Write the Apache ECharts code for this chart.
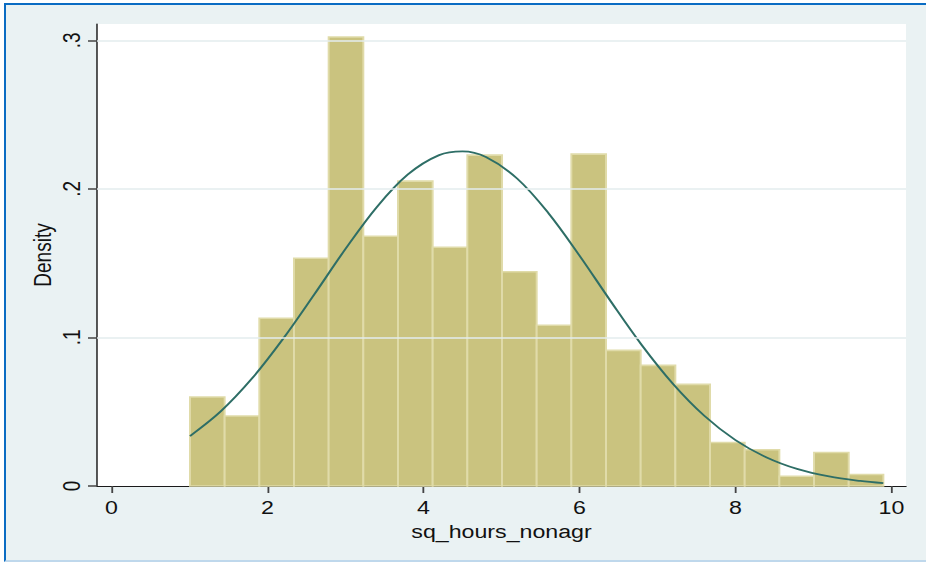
<!DOCTYPE html>
<html>
<head>
<meta charset="utf-8">
<script src="https://cdn.jsdelivr.net/npm/echarts@6/dist/echarts.min.js"></script>
<style>
  html, body { margin: 0; padding: 0; background: #ffffff; width: 926px; height: 562px; overflow: hidden; }
  #frame { position: absolute; left: 4px; top: 3px; width: 940px; height: 555px;
           background: #EAF2F3; border-left: 2px solid #0A6CC3; border-top: 2px solid #0A6CC3;
           border-bottom: 2px solid #BFD8EC; }
  #chart { position: absolute; left: 0; top: 0; height: 562px; transform-origin: 0 0; }
</style>
</head>
<body>
<div id="frame"></div>
<div id="chart"></div>
<script>
// ---- data ----
const binStart = 1.006;
const binWidth = 0.4445;
const densities = [0.0599, 0.0471, 0.1129, 0.1533, 0.3022, 0.1681, 0.2052, 0.1607, 0.2227, 0.1442,
                   0.1082, 0.2234, 0.0913, 0.0812, 0.0684, 0.0293, 0.0244, 0.0066, 0.0226, 0.0077];
const curveX = [1.006, 1.4, 1.8, 2.2, 2.6, 3.0, 3.4, 3.8, 4.2, 4.5, 4.8, 5.2, 5.6, 6.0, 6.4, 6.8,
                7.2, 7.6, 8.0, 8.4, 8.8, 9.2, 9.6, 9.895];
const curveY = [0.0336, 0.0502, 0.0723, 0.0991, 0.1290, 0.1596, 0.1877, 0.2097, 0.2227, 0.2252, 0.2214,
                0.2070, 0.1838, 0.1551, 0.1244, 0.0948, 0.0687, 0.0473, 0.0309, 0.0192, 0.0113,
                0.0064, 0.0034, 0.0019];
const xTicks = [0, 2, 4, 6, 8, 10];
const xTickLabels = ['0', '2', '4', '6', '8', '10'];
const yTicks = [0, 0.1, 0.2, 0.3];
const yTickLabels = ['0', '.1', '.2', '.3'];
const xTitle = 'sq_hours_nonagr';
const yTitle = 'Density';

// ---- layout ----
const S = 1.22;               // horizontal stretch of the reference text
const W = 926 / S;
const el = document.getElementById('chart');
el.style.width = W + 'px';
el.style.transform = 'scaleX(' + S + ')';

const chart = echarts.init(el, null, { renderer: 'svg', width: W, height: 562 });

const barData = densities.map((d, i) => [binStart + i * binWidth, binStart + (i + 1) * binWidth, d]);
const curveData = curveX.map((x, i) => [x, curveY[i]]);
const font = '"Liberation Sans", Arial, sans-serif';

chart.setOption({
  animation: false,
  backgroundColor: 'transparent',
  grid: {
    left: 97 / S, right: (926 - 906) / S, top: 24, bottom: 76,
    show: true, backgroundColor: '#ffffff', borderWidth: 0
  },
  xAxis: {
    type: 'value', min: -0.186, max: 10.186,
    axisLine: { show: true, onZero: false, lineStyle: { color: '#1a1a1a', width: 1.2 } },
    axisTick: { show: true, customValues: xTicks, length: 7, lineStyle: { color: '#444', width: 1.5 } },
    axisLabel: { show: true, customValues: xTicks, margin: 12, fontSize: 19, color: '#111', fontFamily: font,
                 formatter: v => xTickLabels[xTicks.indexOf(v)] },
    splitLine: { show: false },
    name: xTitle, nameLocation: 'middle', nameGap: 32,
    nameTextStyle: { fontSize: 19, color: '#111', fontFamily: font }
  },
  yAxis: {
    type: 'value', min: 0, max: 0.311,
    axisLine: { show: true, onZero: false, lineStyle: { color: '#1a1a1a', width: 1.2 } },
    axisTick: { show: true, customValues: yTicks, length: 9 / S, lineStyle: { color: '#444', width: 1.5 } },
    axisLabel: { show: true, customValues: yTicks, rotate: 90, margin: 11, fontSize: 19, color: '#111', fontFamily: font,
                 formatter: v => yTickLabels[yTicks.indexOf(v)] },
    splitLine: { show: false },
    name: yTitle, nameLocation: 'middle', nameGap: 35, nameMoveOverlap: false,
    nameTextStyle: { fontSize: 19, color: '#111', fontFamily: font }
  },
  series: [
    {
      type: 'line', data: [], z: 1, silent: true,
      markLine: {
        silent: true, symbol: ['none', 'none'], label: { show: false },
        lineStyle: { color: '#E3ECEE', width: 1.6, type: 'solid' },
        data: yTicks.filter(v => v > 0).map(v => ({ yAxis: v }))
      }
    },
    {
      type: 'custom', z: 2, silent: true,
      data: barData,
      encode: { x: [0, 1], y: 2 },
      renderItem: function (params, api) {
        const p0 = api.coord([api.value(0), api.value(2)]);
        const p1 = api.coord([api.value(1), 0]);
        return {
          type: 'rect',
          shape: { x: p0[0], y: p0[1], width: p1[0] - p0[0], height: p1[1] - p0[1] },
          style: { fill: '#CAC37F', stroke: '#E0DBA9', lineWidth: 1.6 }
        };
      }
    },
    {
      type: 'line', z: 3, silent: true,
      data: curveData, smooth: 0.35, showSymbol: false,
      lineStyle: { color: '#2E6E66', width: 1.8 }
    }
  ]
});
</script>
</body>
</html>
